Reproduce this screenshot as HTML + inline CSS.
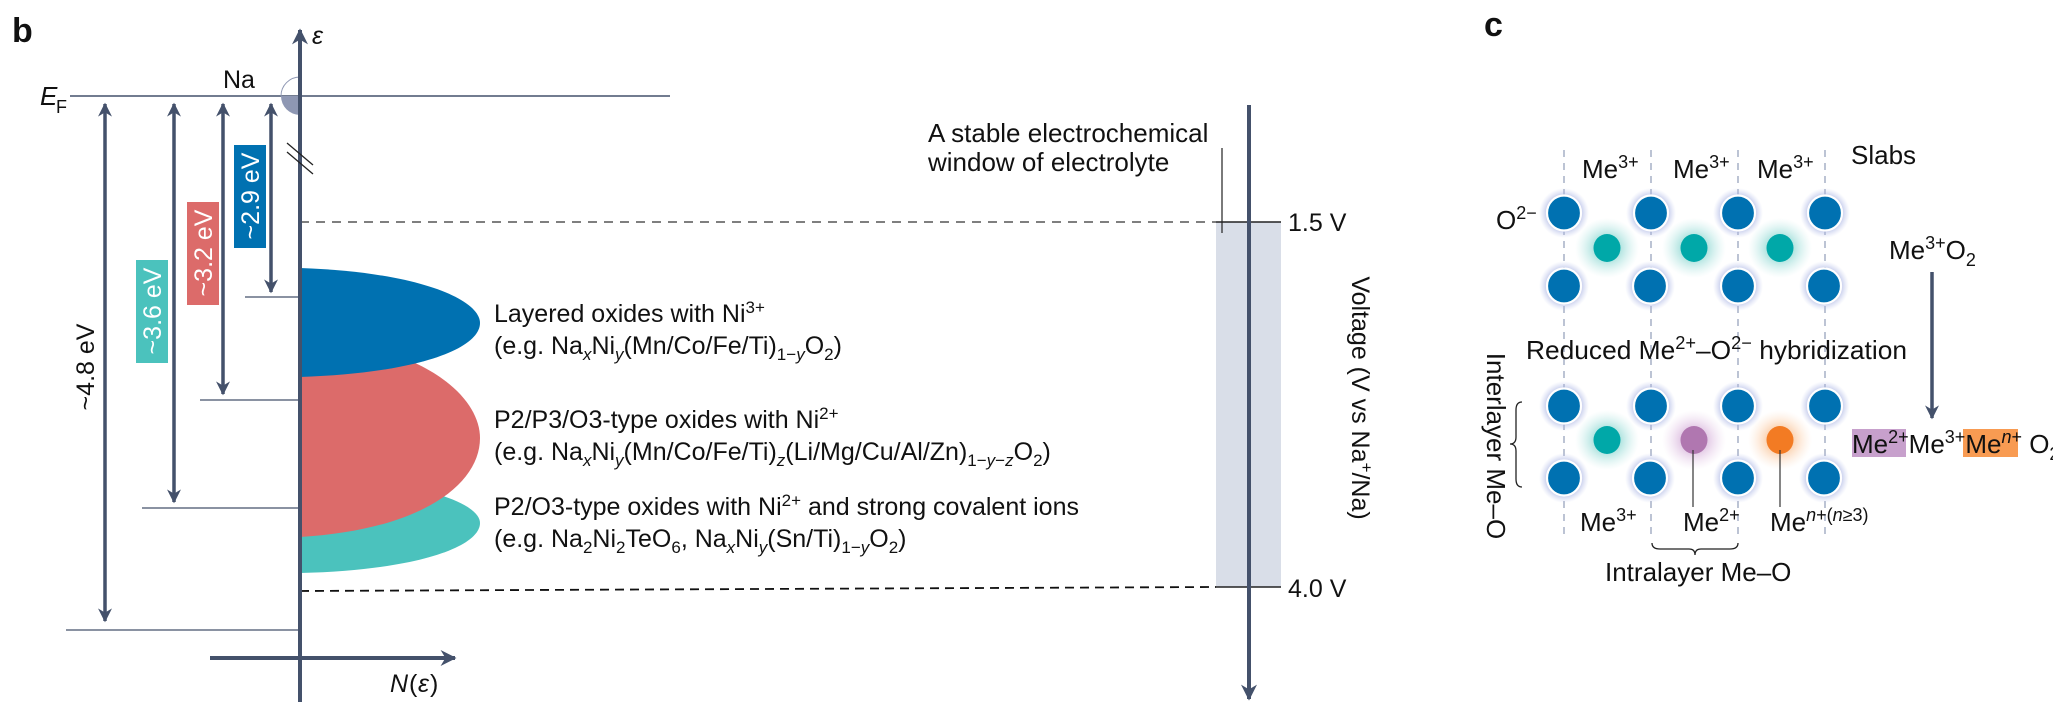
<!DOCTYPE html>
<html><head><meta charset="utf-8"><style>
html,body{margin:0;padding:0;background:#fff}
svg{display:block}
text{font-family:"Liberation Sans",sans-serif;fill:#111}
</style></head><body>
<svg width="2053" height="717" viewBox="0 0 2053 717" xmlns="http://www.w3.org/2000/svg">
<defs>
<marker id="ah" viewBox="0 0 10 10" refX="9" refY="5" markerWidth="4" markerHeight="4" orient="auto-start-reverse" markerUnits="strokeWidth"><path d="M0,0 L10,5 L0,10 L3,5 Z" fill="#44516b"/></marker>
<radialGradient id="gb"><stop offset="0.6" stop-color="#9aa6dc" stop-opacity="0.8"/><stop offset="1" stop-color="#c0c8ee" stop-opacity="0"/></radialGradient>
<radialGradient id="gt"><stop offset="0.3" stop-color="#7fd3cd" stop-opacity="0.8"/><stop offset="1" stop-color="#bfe9e6" stop-opacity="0"/></radialGradient>
<radialGradient id="gp"><stop offset="0.3" stop-color="#d2a9d6" stop-opacity="0.8"/><stop offset="1" stop-color="#ead4ec" stop-opacity="0"/></radialGradient>
<radialGradient id="go"><stop offset="0.3" stop-color="#f8b884" stop-opacity="0.8"/><stop offset="1" stop-color="#fde0c8" stop-opacity="0"/></radialGradient>
<g id="bc">
<ellipse cx="0" cy="0" rx="25" ry="25" fill="url(#gb)"/>
<ellipse cx="0" cy="0" rx="17" ry="17.5" fill="#0071b1" stroke="#fff" stroke-width="2.2"/>
</g>
</defs>

<!-- Panel b -->
<text x="12" y="42" font-size="34" font-weight="bold" fill="#000">b</text>

<path d="M300,476 C420,480 480,503 480,523 C480,546 420,570 300,573 Z" fill="#4bc2bd"/>
<path d="M300,338 C420,343 480,395 480,438 C480,485 420,530 300,537 Z" fill="#dc6b6a"/>
<path d="M300,268 C420,272 480,300 480,323 C480,348 420,373 300,377 Z" fill="#0071b1"/>

<line x1="70" y1="96" x2="670" y2="96" stroke="#44516b" stroke-width="1.5"/>
<path d="M300,96 L281,96 A19,19 0 0 0 300,115 Z" fill="#8e97b3"/>
<path d="M300,77 A19,19 0 0 0 281,96" fill="none" stroke="#8e97b3" stroke-width="1"/>
<text x="40" y="105" font-size="26" font-style="italic">E</text><text x="56" y="113" font-size="18">F</text>
<text x="223" y="88" font-size="25">Na</text>

<line x1="245" y1="297" x2="300" y2="297" stroke="#44516b" stroke-width="1.3"/>
<line x1="200" y1="400" x2="300" y2="400" stroke="#44516b" stroke-width="1.3"/>
<line x1="142" y1="508" x2="300" y2="508" stroke="#44516b" stroke-width="1.3"/>
<line x1="66" y1="630" x2="300" y2="630" stroke="#44516b" stroke-width="1.3"/>

<line x1="300" y1="222" x2="1216" y2="222" stroke="#333" stroke-width="1.3" stroke-dasharray="9,7"/>
<line x1="300" y1="591" x2="1216" y2="587" stroke="#111" stroke-width="1.8" stroke-dasharray="9,6"/>

<line x1="300" y1="702" x2="300" y2="30" stroke="#44516b" stroke-width="4" marker-end="url(#ah)"/>
<text x="312" y="44" font-size="25" font-style="italic">ε</text>
<line x1="287" y1="143" x2="313" y2="165" stroke="#222" stroke-width="1.3"/>
<line x1="287" y1="152" x2="313" y2="174" stroke="#222" stroke-width="1.3"/>
<line x1="210" y1="658" x2="455" y2="658" stroke="#44516b" stroke-width="4" marker-end="url(#ah)"/>
<text x="390" y="692" font-size="25" font-style="italic">N</text><text x="409" y="692" font-size="25">(</text><text x="418" y="692" font-size="25" font-style="italic">ε</text><text x="430" y="692" font-size="25">)</text>

<g stroke="#44516b" stroke-width="3.5" marker-start="url(#ah)" marker-end="url(#ah)">
<line x1="105" y1="104" x2="105" y2="621"/>
<line x1="174" y1="104" x2="174" y2="502"/>
<line x1="223" y1="104" x2="223" y2="394"/>
<line x1="271" y1="104" x2="271" y2="292"/>
</g>

<rect x="234" y="145" width="32" height="103" fill="#0071b1"/>
<text transform="translate(259,196) rotate(-90)" font-size="25" text-anchor="middle" style="fill:#fff">~2.9 eV</text>
<rect x="187" y="202" width="32" height="103" fill="#dc6b6a"/>
<text transform="translate(212,253) rotate(-90)" font-size="25" text-anchor="middle" style="fill:#fff">~3.2 eV</text>
<rect x="136" y="260" width="32" height="103" fill="#4bc2bd"/>
<text transform="translate(161,311) rotate(-90)" font-size="25" text-anchor="middle" style="fill:#fff">~3.6 eV</text>
<text transform="translate(94,367) rotate(-90)" font-size="25" text-anchor="middle">~4.8 eV</text>

<g font-size="25">
<text x="494" y="322">Layered oxides with Ni<tspan dy="-9" font-size="17">3+</tspan></text>
<text x="494" y="354">(e.g. Na<tspan dy="6" font-size="17" font-style="italic">x</tspan><tspan dy="-6">Ni</tspan><tspan dy="6" font-size="17" font-style="italic">y</tspan><tspan dy="-6">(Mn/Co/Fe/Ti)</tspan><tspan dy="6" font-size="17">1−</tspan><tspan font-size="17" font-style="italic">y</tspan><tspan dy="-6">O</tspan><tspan dy="6" font-size="17">2</tspan><tspan dy="-6">)</tspan></text>
<text x="494" y="428">P2/P3/O3-type oxides with Ni<tspan dy="-9" font-size="17">2+</tspan></text>
<text x="494" y="460">(e.g. Na<tspan dy="6" font-size="17" font-style="italic">x</tspan><tspan dy="-6">Ni</tspan><tspan dy="6" font-size="17" font-style="italic">y</tspan><tspan dy="-6">(Mn/Co/Fe/Ti)</tspan><tspan dy="6" font-size="17" font-style="italic">z</tspan><tspan dy="-6">(Li/Mg/Cu/Al/Zn)</tspan><tspan dy="6" font-size="17">1−</tspan><tspan font-size="17" font-style="italic">y</tspan><tspan font-size="17">−</tspan><tspan font-size="17" font-style="italic">z</tspan><tspan dy="-6">O</tspan><tspan dy="6" font-size="17">2</tspan><tspan dy="-6">)</tspan></text>
<text x="494" y="515">P2/O3-type oxides with Ni<tspan dy="-9" font-size="17">2+</tspan><tspan dy="9"> and strong covalent ions</tspan></text>
<text x="494" y="547">(e.g. Na<tspan dy="6" font-size="17">2</tspan><tspan dy="-6">Ni</tspan><tspan dy="6" font-size="17">2</tspan><tspan dy="-6">TeO</tspan><tspan dy="6" font-size="17">6</tspan><tspan dy="-6">, Na</tspan><tspan dy="6" font-size="17" font-style="italic">x</tspan><tspan dy="-6">Ni</tspan><tspan dy="6" font-size="17" font-style="italic">y</tspan><tspan dy="-6">(Sn/Ti)</tspan><tspan dy="6" font-size="17">1−</tspan><tspan font-size="17" font-style="italic">y</tspan><tspan dy="-6">O</tspan><tspan dy="6" font-size="17">2</tspan><tspan dy="-6">)</tspan></text>
</g>

<rect x="1216" y="222" width="65" height="365" fill="#d9dee8"/>
<line x1="1216" y1="222" x2="1281" y2="222" stroke="#222" stroke-width="1.5"/>
<line x1="1216" y1="587" x2="1281" y2="587" stroke="#222" stroke-width="1.5"/>
<line x1="1222" y1="148" x2="1222" y2="233" stroke="#222" stroke-width="1.2"/>
<line x1="1249" y1="105" x2="1249" y2="699" stroke="#44516b" stroke-width="4" marker-end="url(#ah)"/>
<text x="1288" y="231" font-size="25">1.5 V</text>
<text x="1288" y="597" font-size="25">4.0 V</text>
<text x="928" y="142" font-size="26">A stable electrochemical</text>
<text x="928" y="171" font-size="26">window of electrolyte</text>
<text transform="translate(1352,398) rotate(90)" font-size="25" text-anchor="middle">Voltage (V vs Na<tspan dy="-9" font-size="17">+</tspan><tspan dy="9">/Na)</tspan></text>

<!-- Panel c -->
<text x="1484" y="36" font-size="34" font-weight="bold" fill="#000">c</text>
<g stroke="#98a3bd" stroke-width="1.3" stroke-dasharray="7,6">
<line x1="1564" y1="150" x2="1564" y2="535"/>
<line x1="1651" y1="150" x2="1651" y2="535"/>
<line x1="1738" y1="150" x2="1738" y2="535"/>
<line x1="1825" y1="150" x2="1825" y2="535"/>
</g>
<ellipse cx="1607" cy="248" rx="32" ry="30" fill="url(#gt)"/>
<ellipse cx="1694" cy="248" rx="32" ry="30" fill="url(#gt)"/>
<ellipse cx="1780" cy="248" rx="32" ry="30" fill="url(#gt)"/>
<ellipse cx="1607" cy="440" rx="32" ry="30" fill="url(#gt)"/>
<ellipse cx="1694" cy="440" rx="32" ry="30" fill="url(#gp)"/>
<ellipse cx="1780" cy="440" rx="32" ry="30" fill="url(#go)"/>
<ellipse cx="1607" cy="248" rx="13.5" ry="14" fill="#00a8a8"/>
<ellipse cx="1694" cy="248" rx="13.5" ry="14" fill="#00a8a8"/>
<ellipse cx="1780" cy="248" rx="13.5" ry="14" fill="#00a8a8"/>
<ellipse cx="1607" cy="440" rx="13.5" ry="14" fill="#00a8a8"/>
<ellipse cx="1694" cy="440" rx="13.5" ry="14" fill="#b077b0"/>
<ellipse cx="1780" cy="440" rx="13.5" ry="14" fill="#f37b23"/>
<use href="#bc" x="1564" y="213"/><use href="#bc" x="1651" y="213"/><use href="#bc" x="1738" y="213"/><use href="#bc" x="1825" y="213"/>
<use href="#bc" x="1564" y="286"/><use href="#bc" x="1650" y="286"/><use href="#bc" x="1738" y="286"/><use href="#bc" x="1824" y="286"/>
<use href="#bc" x="1564" y="406"/><use href="#bc" x="1651" y="406"/><use href="#bc" x="1738" y="406"/><use href="#bc" x="1825" y="406"/>
<use href="#bc" x="1564" y="478"/><use href="#bc" x="1650" y="478"/><use href="#bc" x="1738" y="478"/><use href="#bc" x="1824" y="478"/>
<line x1="1693" y1="450" x2="1693" y2="507" stroke="#333" stroke-width="1.2"/>
<line x1="1780" y1="450" x2="1780" y2="507" stroke="#333" stroke-width="1.2"/>

<g font-size="26">
<text x="1582" y="178">Me<tspan dy="-10" font-size="18">3+</tspan></text>
<text x="1673" y="178">Me<tspan dy="-10" font-size="18">3+</tspan></text>
<text x="1757" y="178">Me<tspan dy="-10" font-size="18">3+</tspan></text>
<text x="1851" y="164">Slabs</text>
<text x="1496" y="229">O<tspan dy="-10" font-size="18">2−</tspan></text>
<text x="1889" y="259">Me<tspan dy="-10" font-size="18">3+</tspan><tspan dy="10">O</tspan><tspan dy="7" font-size="18">2</tspan></text>
<text x="1526" y="359" textLength="381" lengthAdjust="spacingAndGlyphs">Reduced Me<tspan dy="-10" font-size="18">2+</tspan><tspan dy="10">–O</tspan><tspan dy="-10" font-size="18">2−</tspan><tspan dy="10"> hybridization</tspan></text>
<text x="1580" y="531">Me<tspan dy="-10" font-size="18">3+</tspan></text>
<text x="1683" y="531">Me<tspan dy="-10" font-size="18">2+</tspan></text>
<text x="1770" y="531">Me<tspan dy="-10" font-size="18" font-style="italic">n</tspan><tspan font-size="18">+(</tspan><tspan font-size="18" font-style="italic">n</tspan><tspan font-size="18">≥3)</tspan></text>
<text x="1605" y="581">Intralayer Me–O</text>
<text transform="translate(1487,446) rotate(90)" text-anchor="middle">Interlayer Me–O</text>
</g>
<path d="M1652,543 Q1652,549 1660,549 L1689,549 Q1695,549 1695,555 Q1695,549 1701,549 L1730,549 Q1738,549 1738,543" fill="none" stroke="#222" stroke-width="1.3"/>
<path d="M1522,402 Q1516,402 1516,410 L1516,437 Q1516,444 1510,444 Q1516,444 1516,451 L1516,479 Q1516,487 1522,487" fill="none" stroke="#222" stroke-width="1.3"/>

<line x1="1932" y1="272" x2="1932" y2="418" stroke="#44516b" stroke-width="3.5" marker-end="url(#ah)"/>
<rect x="1852" y="429" width="54" height="28" fill="#c7a0cc"/>
<rect x="1963" y="429" width="55" height="28" fill="#f89b52"/>
<text x="1852" y="453" font-size="26">Me<tspan dy="-10" font-size="18">2+</tspan><tspan dy="10">Me</tspan><tspan dy="-10" font-size="18">3+</tspan><tspan dy="10">Me</tspan><tspan dy="-10" font-size="18" font-style="italic">n</tspan><tspan font-size="18">+</tspan><tspan dy="10"> O</tspan><tspan dy="7" font-size="18">2</tspan></text>
</svg>
</body></html>
